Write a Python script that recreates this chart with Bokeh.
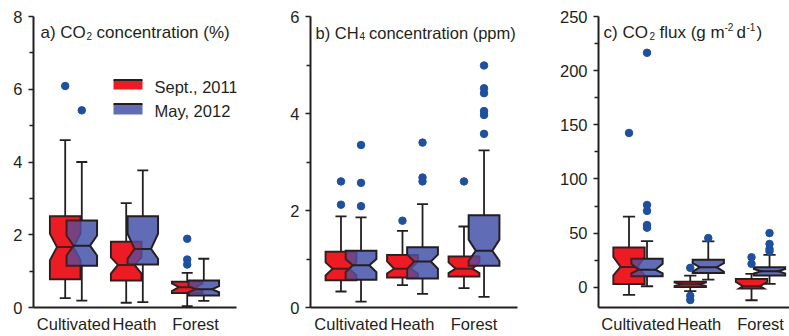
from bokeh.plotting import figure
from bokeh.layouts import row
from bokeh.models import FixedTicker, Label, Range1d
from bokeh.embed import file_html
from bokeh.resources import INLINE

sites = ["Cultivated", "Heath", "Forest"]
seasons = ["Sept., 2011", "May, 2012"]

# ---- panel a: CO2 concentration (%) ----
a_sept_lo = [0.26, 0.13, 0.04]
a_sept_q1 = [0.78, 0.74, 0.40]
a_sept_nlo = [1.30, 0.93, 0.45]
a_sept_med = [1.66, 1.17, 0.56]
a_sept_nhi = [2.03, 1.38, 0.66]
a_sept_q3 = [2.51, 1.81, 0.71]
a_sept_hi = [4.60, 2.87, 0.95]
a_sept_fliers = [[6.09], [], [1.18, 1.32, 1.89]]

a_may_lo = [0.19, 0.15, 0.18]
a_may_q1 = [1.15, 1.18, 0.33]
a_may_nlo = [1.43, 1.34, 0.42]
a_may_med = [1.70, 1.61, 0.50]
a_may_nhi = [1.98, 2.03, 0.59]
a_may_q3 = [2.39, 2.51, 0.74]
a_may_hi = [4.00, 3.77, 1.34]
a_may_fliers = [[5.42], [], []]

# ---- panel b: CH4 concentration (ppm) ----
b_sept_lo = [0.33, 0.46, 0.40]
b_sept_q1 = [0.56, 0.62, 0.64]
b_sept_nlo = [0.66, 0.70, 0.71]
b_sept_med = [0.80, 0.80, 0.80]
b_sept_nhi = [0.93, 0.95, 0.93]
b_sept_q3 = [1.15, 1.08, 1.05]
b_sept_hi = [1.88, 1.58, 1.67]
b_sept_fliers = [[2.12, 2.60], [1.79], [2.60]]

b_may_lo = [0.12, 0.28, 0.22]
b_may_q1 = [0.57, 0.60, 0.86]
b_may_nlo = [0.73, 0.80, 0.96]
b_may_med = [0.87, 0.95, 1.17]
b_may_nhi = [1.00, 1.09, 1.40]
b_may_q3 = [1.17, 1.24, 1.90]
b_may_hi = [1.86, 2.13, 3.24]
b_may_fliers = [[2.09, 2.57, 3.35], [2.60, 2.68, 3.40], [3.58, 3.97, 4.05, 4.42, 4.52, 4.99]]

# ---- panel c: CO2 flux (g m-2 d-1) ----
c_sept_lo = [-7.0, -3.5, -12.0]
c_sept_q1 = [3.1, 0.3, -1.2]
c_sept_nlo = [11.0, 1.2, -3.0]
c_sept_med = [18.8, 2.8, 1.0]
c_sept_nhi = [28.0, 4.4, 5.0]
c_sept_q3 = [36.8, 5.0, 7.7]
c_sept_hi = [65.3, 10.8, 12.3]
c_sept_fliers = [[142.5], [-11.8, -7.9, 17.9], [21.6, 27.7]]

c_may_lo = [0.9, 7.1, 3.1]
c_may_q1 = [10.2, 13.1, 10.8]
c_may_nlo = [12.9, 14.3, 12.8]
c_may_med = [16.2, 18.5, 14.8]
c_may_nhi = [21.6, 22.2, 16.8]
c_may_q3 = [26.2, 25.5, 18.5]
c_may_hi = [42.5, 42.3, 29.9]
c_may_fliers = [[55.0, 57.5, 70.5, 76.0, 216.5], [45.4], [33.0, 35.4, 40.0, 50.0]]

a_yticks = [0, 2, 4, 6, 8]
a_yminor = [1, 3, 5, 7]
b_yticks = [0, 2, 4, 6]
b_yminor = [1, 3, 5]
c_yticks = [0, 50, 100, 150, 200, 250]
c_yminor = [25, 75, 125, 175, 225]

RED = "#ed1c24"
BLUE = "#4454a9"
INK = "#231f20"
DOT = "#1f4f9f"
FONT = "Liberation Sans"


def stats(lo, q1, nlo, med, nhi, q3, hi, fl):
    return dict(lo=lo, q1=q1, nlo=nlo, med=med, nhi=nhi, q3=q3, hi=hi, fl=fl)


def indent_at(y, nlo, med, nhi, ind):
    if y <= nlo or y >= nhi:
        return 0.0
    if y <= med:
        return ind * (y - nlo) / (med - nlo)
    return ind * (nhi - y) / (nhi - med)


def box_shape(xc, w, q1, nlo, med, nhi, q3):
    ind = 0.23 * w
    L, R = xc - w / 2, xc + w / 2
    ys = [q1] + [y for y in (nlo, med, nhi) if q1 < y < q3] + [q3]
    px = [L + indent_at(y, nlo, med, nhi, ind) for y in ys] + \
         [R - indent_at(y, nlo, med, nhi, ind) for y in ys[::-1]]
    py = ys + ys[::-1]
    return px, py, L + ind, R - ind


def px2data(px, py, g):
    fl, fr, ft, fb, x0, x1, y0, y1 = g
    return (x0 + (px - fl) / (fr - fl) * (x1 - x0),
            y1 - (py - ft) / (fb - ft) * (y1 - y0))


def make_fig(width, g, bl, br, yt, ym):
    fl, fr, ft, fb, x0, x1, y0, y1 = g
    p = figure(width=width, height=336, x_range=Range1d(x0, x1), y_range=Range1d(y0, y1),
               output_backend="svg", toolbar_location=None,
               min_border_left=bl, min_border_right=br, min_border_top=16, min_border_bottom=29)
    p.outline_line_color = None
    p.grid.visible = False
    p.yaxis.ticker = FixedTicker(ticks=yt, minor_ticks=ym)
    p.yaxis.major_tick_out = 5
    p.yaxis.major_tick_in = 0
    p.yaxis.minor_tick_out = 4
    p.yaxis.minor_tick_in = 0
    p.yaxis.major_tick_line_width = 1.5
    p.yaxis.minor_tick_line_width = 1.5
    p.yaxis.major_label_standoff = 6
    p.xaxis.ticker = FixedTicker(ticks=[1, 2, 3])
    p.xaxis.major_label_overrides = {i + 1: s for i, s in enumerate(sites)}
    p.xaxis.major_tick_out = 0
    p.xaxis.major_tick_in = 0
    p.xaxis.minor_tick_out = 0
    p.xaxis.minor_tick_in = 0
    p.xaxis.major_label_standoff = 7
    for ax in (p.xaxis, p.yaxis):
        ax.axis_line_width = 2
        ax.axis_line_color = INK
        ax.major_label_text_font = FONT
        ax.major_label_text_font_size = "16.5px"
        ax.major_label_text_color = INK
    p.xaxis.major_tick_line_color = None
    p.xaxis.minor_tick_line_color = None
    p.yaxis.major_tick_line_color = INK
    p.yaxis.minor_tick_line_color = INK
    return p


def draw_boxes(p, S, M, off, w, cw):
    xs_s = [i + 1 - off for i in range(3)]
    xs_m = [i + 1 + off for i in range(3)]
    for st, xc in ((S, xs_s), (M, xs_m)):
        p.segment(x0=xc, y0=st["q3"], x1=xc, y1=st["hi"], line_color=INK, line_width=1.8)
        p.segment(x0=xc, y0=st["q1"], x1=xc, y1=st["lo"], line_color=INK, line_width=1.8)
        p.segment(x0=[x - cw / 2 for x in xc], y0=st["hi"], x1=[x + cw / 2 for x in xc], y1=st["hi"],
                  line_color=INK, line_width=1.8)
        p.segment(x0=[x - cw / 2 for x in xc], y0=st["lo"], x1=[x + cw / 2 for x in xc], y1=st["lo"],
                  line_color=INK, line_width=1.8)
    shapes = {}
    for key, st, xc, col, alpha in (("s", S, xs_s, RED, 1.0), ("m", M, xs_m, BLUE, 0.85)):
        sh = [box_shape(xc[i], w, st["q1"][i], st["nlo"][i], st["med"][i], st["nhi"][i], st["q3"][i])
              for i in range(3)]
        shapes[key] = sh
        p.patches(xs=[s[0] for s in sh], ys=[s[1] for s in sh], fill_color=col, fill_alpha=alpha,
                  line_color=INK, line_width=2, line_join="miter")
        p.segment(x0=[s[2] for s in sh], y0=st["med"], x1=[s[3] for s in sh], y1=st["med"],
                  line_color=INK, line_width=2)
    sh = shapes["s"]
    p.patches(xs=[s[0] for s in sh], ys=[s[1] for s in sh], fill_color=RED, fill_alpha=0.18,
              line_color=None)
    fx, fy = [], []
    for st, xc in ((S, xs_s), (M, xs_m)):
        for i in range(3):
            for v in st["fl"][i]:
                fx.append(xc[i])
                fy.append(v)
    p.scatter(fx, fy, size=7.5, fill_color=DOT, line_color=DOT)


def add_text(p, g, pieces):
    for txt, px, py, size in pieces:
        x, y = px2data(px, py, g)
        p.add_layout(Label(x=x, y=y, text=txt, text_font=FONT, text_font_size=size,
                           text_color=INK, text_baseline="alphabetic", text_align="left"))


# geometry of each frame in the reference: left, right, top, bottom px, then x/y ranges
ga = (33, 236, 16, 307, 0.3443, 3.672, 0, 8)
gb = (310, 517, 16, 307, 0.3415, 3.707, 0, 6)
gc = (598, 789, 16, 307, 0.355, 3.473, -18.7, 250)

pa = make_fig(270, ga, 33, 34, a_yticks, a_yminor)
pb = make_fig(260, gb, 40, 13, b_yticks, b_yminor)
pc = make_fig(259, gc, 68, 0, c_yticks, c_yminor)

draw_boxes(pa, stats(a_sept_lo, a_sept_q1, a_sept_nlo, a_sept_med, a_sept_nhi, a_sept_q3, a_sept_hi, a_sept_fliers),
           stats(a_may_lo, a_may_q1, a_may_nlo, a_may_med, a_may_nhi, a_may_q3, a_may_hi, a_may_fliers),
           0.136, 0.50, 0.18)
draw_boxes(pb, stats(b_sept_lo, b_sept_q1, b_sept_nlo, b_sept_med, b_sept_nhi, b_sept_q3, b_sept_hi, b_sept_fliers),
           stats(b_may_lo, b_may_q1, b_may_nlo, b_may_med, b_may_nhi, b_may_q3, b_may_hi, b_may_fliers),
           0.163, 0.50, 0.18)
draw_boxes(pc, stats(c_sept_lo, c_sept_q1, c_sept_nlo, c_sept_med, c_sept_nhi, c_sept_q3, c_sept_hi, c_sept_fliers),
           stats(c_may_lo, c_may_q1, c_may_nlo, c_may_med, c_may_nhi, c_may_q3, c_may_hi, c_may_fliers),
           0.147, 0.51, 0.2)

# titles
add_text(pa, ga, [("a) CO", 40, 32, "17px"), ("2", 86, 35.5, "10px"), ("concentration (%)", 96, 32, "17px")])
add_text(pb, gb, [("b) CH", 315, 32, "16.5px"), ("4", 359, 35.5, "10px"), ("concentration (ppm)", 368.5, 32, "16.5px")])
add_text(pc, gc, [("c) CO", 603, 32, "17px"), ("2", 649, 35.5, "10px"), ("flux (g m", 659, 32, "17px"),
                  ("-2", 724, 26.5, "10px"), ("d", 736, 32, "17px"), ("-1", 746, 26.5, "10px"),
                  (")", 756, 32, "17px")])

# legend (panel a)
for (label, col, alpha, top_px, bot_px, base_px) in ((seasons[0], RED, 1.0, 79.5, 89, 86.7),
                                                     (seasons[1], BLUE, 0.85, 103.5, 114, 110.7)):
    lx, ty = px2data(113, top_px, ga)
    rx, by = px2data(142, bot_px, ga)
    pa.quad(left=[lx], right=[rx], top=[ty], bottom=[by], fill_color=col, fill_alpha=alpha, line_color=None)
    pa.segment(x0=[lx], y0=[ty], x1=[rx], y1=[ty], line_color=INK, line_width=2)
    add_text(pa, ga, [(label, 154, base_px, "16.5px")])

layout = row(pa, pb, pc)
open("out.html", "w").write(file_html(layout, INLINE))
